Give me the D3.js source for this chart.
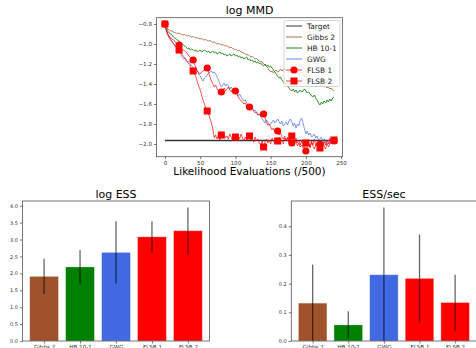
<!DOCTYPE html>
<html>
<head>
<meta charset="utf-8">
<script src="https://cdn.jsdelivr.net/npm/d3@7"></script>
<style>
  body { margin: 0; background: #fff; }
  svg { display: block; font-family: "DejaVu Sans", sans-serif; }
</style>
</head>
<body>
<svg id="chart" width="476" height="348"></svg>
<script>
// ---- data ----
var evalStep = 2;  // x spacing of the MMD traces (units of /500)
var target = -1.965;

var gibbs2 = [-0.80,-0.83,-0.85,-0.86,-0.87,-0.87,-0.88,-0.885,-0.89,-0.895,-0.89,-0.90,-0.905,-0.91,-0.905,-0.915,-0.92,-0.915,-0.925,-0.93,
  -0.925,-0.935,-0.94,-0.935,-0.945,-0.95,-0.945,-0.955,-0.96,-0.955,-0.965,-0.97,-0.965,-0.975,-0.985,-0.98,-0.99,-1.0,-0.995,-1.0,
  -1.01,-1.005,-1.015,-1.02,-1.015,-1.03,-1.035,-1.03,-1.045,-1.05,-1.055,-1.06,-1.07,-1.065,-1.08,-1.085,-1.09,-1.10,-1.11,-1.105,
  -1.12,-1.13,-1.125,-1.14,-1.15,-1.145,-1.16,-1.17,-1.18,-1.175,-1.20,-1.21,-1.22,-1.24,-1.26,-1.28,-1.27,-1.29,-1.27,-1.26,
  -1.28,-1.27,-1.25,-1.27,-1.26,-1.24,-1.26,-1.28,-1.27,-1.29,-1.28,-1.30,-1.29,-1.27,-1.29,-1.31,-1.30,-1.28,-1.30,-1.32,
  -1.31,-1.33,-1.35,-1.34,-1.36,-1.38,-1.37,-1.39,-1.40,-1.38,-1.40,-1.42,-1.41,-1.43,-1.42,-1.44,-1.43,-1.45,-1.44,-1.46,-1.47];

var hb101 = [-0.80,-0.84,-0.87,-0.89,-0.90,-0.91,-0.93,-0.94,-0.95,-0.96,-0.97,-0.98,-1.0,-1.01,-1.02,-1.03,-1.05,-1.04,-1.06,-1.05,
  -1.06,-1.07,-1.06,-1.08,-1.07,-1.06,-1.08,-1.07,-1.06,-1.07,-1.08,-1.07,-1.09,-1.08,-1.07,-1.09,-1.08,-1.10,-1.09,-1.08,
  -1.10,-1.09,-1.11,-1.10,-1.12,-1.11,-1.10,-1.12,-1.11,-1.10,-1.12,-1.11,-1.13,-1.12,-1.14,-1.13,-1.15,-1.14,-1.13,-1.16,
  -1.15,-1.17,-1.16,-1.18,-1.17,-1.19,-1.18,-1.20,-1.19,-1.21,-1.22,-1.20,-1.22,-1.21,-1.23,-1.22,-1.24,-1.26,-1.28,-1.30,
  -1.32,-1.34,-1.33,-1.36,-1.38,-1.40,-1.39,-1.42,-1.44,-1.46,-1.47,-1.45,-1.48,-1.46,-1.49,-1.48,-1.46,-1.48,-1.47,-1.45,
  -1.47,-1.49,-1.48,-1.50,-1.52,-1.53,-1.51,-1.54,-1.56,-1.59,-1.61,-1.58,-1.60,-1.57,-1.59,-1.56,-1.58,-1.55,-1.57,-1.54,-1.53];

var gwg = [-0.80,-0.86,-0.90,-0.93,-0.95,-0.97,-0.99,-1.01,-1.03,-1.05,-1.06,-1.09,-1.13,-1.15,-1.14,-1.16,-1.18,-1.17,-1.20,-1.22,
  -1.23,-1.25,-1.24,-1.27,-1.30,-1.32,-1.35,-1.37,-1.34,-1.33,-1.31,-1.29,-1.28,-1.27,-1.29,-1.28,-1.30,-1.33,-1.36,-1.40,
  -1.43,-1.41,-1.39,-1.42,-1.40,-1.42,-1.45,-1.43,-1.46,-1.44,-1.47,-1.49,-1.52,-1.50,-1.53,-1.55,-1.57,-1.56,-1.59,-1.61,
  -1.63,-1.62,-1.65,-1.67,-1.66,-1.69,-1.71,-1.70,-1.73,-1.75,-1.77,-1.79,-1.76,-1.78,-1.81,-1.80,-1.78,-1.76,-1.79,-1.77,
  -1.75,-1.78,-1.80,-1.77,-1.82,-1.80,-1.78,-1.81,-1.77,-1.75,-1.78,-1.82,-1.79,-1.84,-1.80,-1.82,-1.76,-1.74,-1.79,-1.85,
  -1.90,-1.87,-1.91,-1.89,-1.93,-1.92,-1.90,-1.94,-1.92,-1.96,-1.95,-1.93,-1.97,-1.95,-1.99,-1.98,-1.96,-2.0,-1.97,-1.99,-1.97];

var flsb1 = [-0.80,-0.86,-0.90,-0.92,-0.94,-0.95,-0.96,-0.97,-0.99,-1.0,-1.01,-1.03,-1.05,-1.06,-1.07,-1.08,-1.10,-1.12,-1.13,-1.15,
  -1.16,-1.20,-1.24,-1.27,-1.29,-1.30,-1.28,-1.27,-1.26,-1.25,-1.24,-1.28,-1.33,-1.37,-1.40,-1.43,-1.41,-1.45,-1.47,-1.46,
  -1.48,-1.46,-1.44,-1.47,-1.45,-1.43,-1.46,-1.48,-1.45,-1.46,-1.47,-1.50,-1.53,-1.55,-1.57,-1.58,-1.60,-1.59,-1.62,-1.61,
  -1.63,-1.65,-1.64,-1.67,-1.69,-1.68,-1.71,-1.70,-1.72,-1.71,-1.70,-1.74,-1.78,-1.81,-1.80,-1.83,-1.86,-1.84,-1.88,-1.86,
  -1.87,-1.91,-1.89,-1.93,-1.95,-1.92,-1.96,-1.94,-1.98,-1.95,-1.99,-1.96,-2.0,-1.97,-2.02,-1.99,-2.03,-2.01,-2.04,-2.02,
  -2.07,-2.03,-2.0,-2.04,-1.98,-2.02,-2.05,-2.01,-1.99,-2.03,-2.0,-2.04,-1.98,-2.02,-2.05,-1.99,-2.03,-2.0,-1.96,-1.94,-1.97];

var flsb2 = [-0.80,-0.87,-0.91,-0.94,-0.96,-0.98,-1.0,-1.02,-1.03,-1.05,-1.06,-1.08,-1.10,-1.12,-1.14,-1.16,-1.18,-1.20,-1.22,-1.25,
  -1.27,-1.30,-1.33,-1.38,-1.42,-1.46,-1.51,-1.56,-1.60,-1.64,-1.67,-1.70,-1.75,-1.79,-1.85,-1.94,-1.91,-1.95,-1.92,-1.96,
  -1.91,-1.93,-1.90,-1.94,-1.92,-1.95,-1.90,-1.93,-1.96,-1.91,-1.93,-1.97,-1.92,-1.95,-1.90,-1.94,-1.97,-1.93,-1.96,-1.91,
  -1.92,-1.96,-1.94,-1.98,-1.93,-1.97,-1.95,-1.99,-2.01,-1.97,-2.03,-1.98,-1.95,-1.99,-1.96,-2.0,-1.94,-1.97,-1.99,-1.95,
  -1.97,-1.93,-1.98,-1.96,-2.0,-1.94,-1.97,-1.93,-1.96,-1.91,-1.92,-1.95,-1.98,-1.94,-1.99,-1.96,-2.01,-1.97,-2.0,-1.96,
  -1.99,-2.02,-1.98,-2.03,-1.97,-2.01,-1.95,-2.02,-1.98,-2.05,-2.04,-1.99,-2.03,-1.97,-2.01,-1.96,-2.0,-1.94,-1.98,-1.93,-1.96];

var samplers = ["Gibbs 2", "HB 10-1", "GWG", "FLSB 1", "FLSB 2"];
var samplerColors = ["#a0522d", "green", "royalblue", "red", "red"];
var logEss = [1.91, 2.19, 2.62, 3.08, 3.26];
var logEssErr = [0.52, 0.50, 0.92, 0.46, 0.69];
var essSec = [0.132, 0.056, 0.231, 0.218, 0.134];
var essSecErr = [0.135, 0.048, 0.234, 0.153, 0.097];

var mmdTicksX = [0, 50, 100, 150, 200, 250];
var mmdTicksY = [-2.0, -1.8, -1.6, -1.4, -1.2, -1.0, -0.8];
var logEssTicks = [0, 0.5, 1, 1.5, 2, 2.5, 3, 3.5, 4];
var essSecTicks = [0, 0.1, 0.2, 0.3, 0.4];

const svg = d3.select("#chart");
const spine = "#555";

function styleAxis(g, fs) {
  g.selectAll(".domain").remove();
  g.selectAll(".tick line").attr("stroke", spine).attr("stroke-width", 0.8);
  g.selectAll(".tick text").attr("fill", "#333").attr("font-size", fs);
  g.attr("font-family", null);
}

function frame(x0, y0, x1, y1) {
  svg.append("rect")
    .attr("x", x0).attr("y", y0)
    .attr("width", x1 - x0).attr("height", y1 - y0)
    .attr("fill", "none").attr("stroke", spine).attr("stroke-width", 0.8);
}

// ---------- log MMD ----------
var mmd = { left: 156.5, right: 342.5, top: 17.7, bottom: 156.7 };
var x = d3.scaleLinear().domain([-12, 252]).range([mmd.left, mmd.right]);
var y = d3.scaleLinear().domain([-2.127, -0.737]).range([mmd.bottom, mmd.top]);

var toPts = arr => arr.map((v, i) => [i * evalStep, v]);
var line = d3.line().x(d => x(d[0])).y(d => y(d[1]));

var clip = svg.append("clipPath").attr("id", "mmdclip").append("rect")
  .attr("x", mmd.left).attr("y", mmd.top)
  .attr("width", mmd.right - mmd.left).attr("height", mmd.bottom - mmd.top);

var plot = svg.append("g").attr("clip-path", "url(#mmdclip)");

var lastT = (gibbs2.length - 1) * evalStep;
plot.append("path")
  .attr("d", line([[0, target], [lastT, target]]))
  .attr("fill", "none").attr("stroke", "black").attr("stroke-width", 1.3).attr("opacity", 0.8);

var traces = [
  { data: gibbs2, color: "#a0522d", op: 0.85 },
  { data: hb101, color: "green", op: 0.9 },
  { data: gwg, color: "royalblue", op: 0.75 },
  { data: flsb1, color: "red", op: 0.75 },
  { data: flsb2, color: "red", op: 0.75 }
];
traces.forEach(t => {
  plot.append("path")
    .attr("d", line(toPts(t.data)))
    .attr("fill", "none").attr("stroke", t.color)
    .attr("stroke-width", 0.9).attr("opacity", t.op);
});

// markers every 20 units
var every = 20 / evalStep;
var pts1 = toPts(flsb1).filter((d, i) => i % every === 0);
var pts2 = toPts(flsb2).filter((d, i) => i % every === 0);
plot.append("g").selectAll("circle").data(pts1).join("circle")
  .attr("cx", d => x(d[0])).attr("cy", d => y(d[1])).attr("r", 3.6)
  .attr("fill", "red");
plot.append("g").selectAll("rect").data(pts2).join("rect")
  .attr("x", d => x(d[0]) - 3.5).attr("y", d => y(d[1]) - 3.5)
  .attr("width", 7).attr("height", 7).attr("fill", "red");

frame(mmd.left, mmd.top, mmd.right, mmd.bottom);

svg.append("g").attr("transform", `translate(0,${mmd.bottom})`)
  .call(d3.axisBottom(x).tickValues(mmdTicksX).tickSize(2.5).tickPadding(2).tickFormat(d3.format("d")))
  .call(g => styleAxis(g, 5.6));
svg.append("g").attr("transform", `translate(${mmd.left},0)`)
  .call(d3.axisLeft(y).tickValues(mmdTicksY).tickSize(2.5).tickPadding(2).tickFormat(d3.format(".1f")))
  .call(g => styleAxis(g, 5.6));

svg.append("text").attr("x", (mmd.left + mmd.right) / 2).attr("y", 14)
  .attr("text-anchor", "middle").attr("font-size", 11).text("log MMD");
svg.append("text").attr("x", (mmd.left + mmd.right) / 2).attr("y", 175)
  .attr("text-anchor", "middle").attr("font-size", 10.5).text("Likelihood Evaluations (/500)");

// legend
var legend = svg.append("g");
legend.append("rect").attr("x", 284).attr("y", 20.5).attr("width", 56).attr("height", 66)
  .attr("rx", 2).attr("fill", "white").attr("fill-opacity", 0.8)
  .attr("stroke", "#ccc").attr("stroke-width", 0.8);
var legendItems = [
  { name: "Target", color: "black", op: 0.8, mark: null },
  { name: "Gibbs 2", color: "#a0522d", op: 0.85, mark: null },
  { name: "HB 10-1", color: "green", op: 0.9, mark: null },
  { name: "GWG", color: "royalblue", op: 0.5, mark: null },
  { name: "FLSB 1", color: "red", op: 0.75, mark: "circle" },
  { name: "FLSB 2", color: "red", op: 0.75, mark: "square" }
];
legendItems.forEach((d, i) => {
  var ly = 26 + i * 11;
  legend.append("line").attr("x1", 286).attr("x2", 302).attr("y1", ly).attr("y2", ly)
    .attr("stroke", d.color).attr("stroke-width", d.name === "GWG" ? 1.6 : 1).attr("opacity", d.op);
  if (d.mark === "circle") {
    legend.append("circle").attr("cx", 294).attr("cy", ly).attr("r", 3.6).attr("fill", "red");
  } else if (d.mark === "square") {
    legend.append("rect").attr("x", 290.5).attr("y", ly - 3.5).attr("width", 7).attr("height", 7).attr("fill", "red");
  }
  legend.append("text").attr("x", 307).attr("y", ly + 2.6).attr("font-size", 7.4)
    .attr("fill", "#222").text(d.name);
});

// ---------- bar charts ----------
function barChart(opts) {
  var bx = d3.scaleLinear().domain([-0.6, 4.6]).range([opts.left, opts.right]);
  var by = d3.scaleLinear().domain([0, opts.ymax]).range([opts.bottom, opts.top]);
  var cp = "clip" + opts.id;
  svg.append("clipPath").attr("id", cp).append("rect")
    .attr("x", opts.left).attr("y", opts.top)
    .attr("width", opts.right - opts.left).attr("height", opts.bottom - opts.top);
  var g = svg.append("g").attr("clip-path", `url(#${cp})`);

  g.selectAll("rect").data(opts.values).join("rect")
    .attr("x", (d, i) => bx(i - 0.4))
    .attr("width", bx(0.8) - bx(0))
    .attr("y", d => by(d))
    .attr("height", d => by(0) - by(d))
    .attr("fill", (d, i) => samplerColors[i])
    .attr("stroke", "white").attr("stroke-opacity", 0.35).attr("stroke-width", 0.8);

  g.selectAll("line.err").data(opts.values).join("line")
    .attr("class", "err")
    .attr("x1", (d, i) => bx(i)).attr("x2", (d, i) => bx(i))
    .attr("y1", (d, i) => by(d - opts.errs[i]))
    .attr("y2", (d, i) => by(d + opts.errs[i]))
    .attr("stroke", "black").attr("stroke-opacity", 0.6).attr("stroke-width", 1.3);

  frame(opts.left, opts.top, opts.right, opts.bottom);

  svg.append("g").attr("transform", `translate(${opts.left},0)`)
    .call(d3.axisLeft(by).tickValues(opts.ticks).tickSize(2.5).tickPadding(2).tickFormat(d3.format(".1f")))
    .call(g => styleAxis(g, 5));
  svg.append("g").attr("transform", `translate(0,${opts.bottom})`)
    .call(d3.axisBottom(bx).tickValues(d3.range(samplers.length)).tickSize(2.5).tickPadding(2)
      .tickFormat(i => samplers[i]))
    .call(g => styleAxis(g, 5.6));

  svg.append("text").attr("x", (opts.left + opts.right) / 2).attr("y", 198)
    .attr("text-anchor", "middle").attr("font-size", 11).text(opts.title);
}

barChart({ id: "ess", left: 22.5, right: 209.5, top: 201, bottom: 341, ymax: 4.14,
  values: logEss, errs: logEssErr, ticks: logEssTicks, title: "log ESS" });
barChart({ id: "sec", left: 291.3, right: 476.5, top: 201, bottom: 341, ymax: 0.488,
  values: essSec, errs: essSecErr, ticks: essSecTicks, title: "ESS/sec" });
</script>
</body>
</html>
